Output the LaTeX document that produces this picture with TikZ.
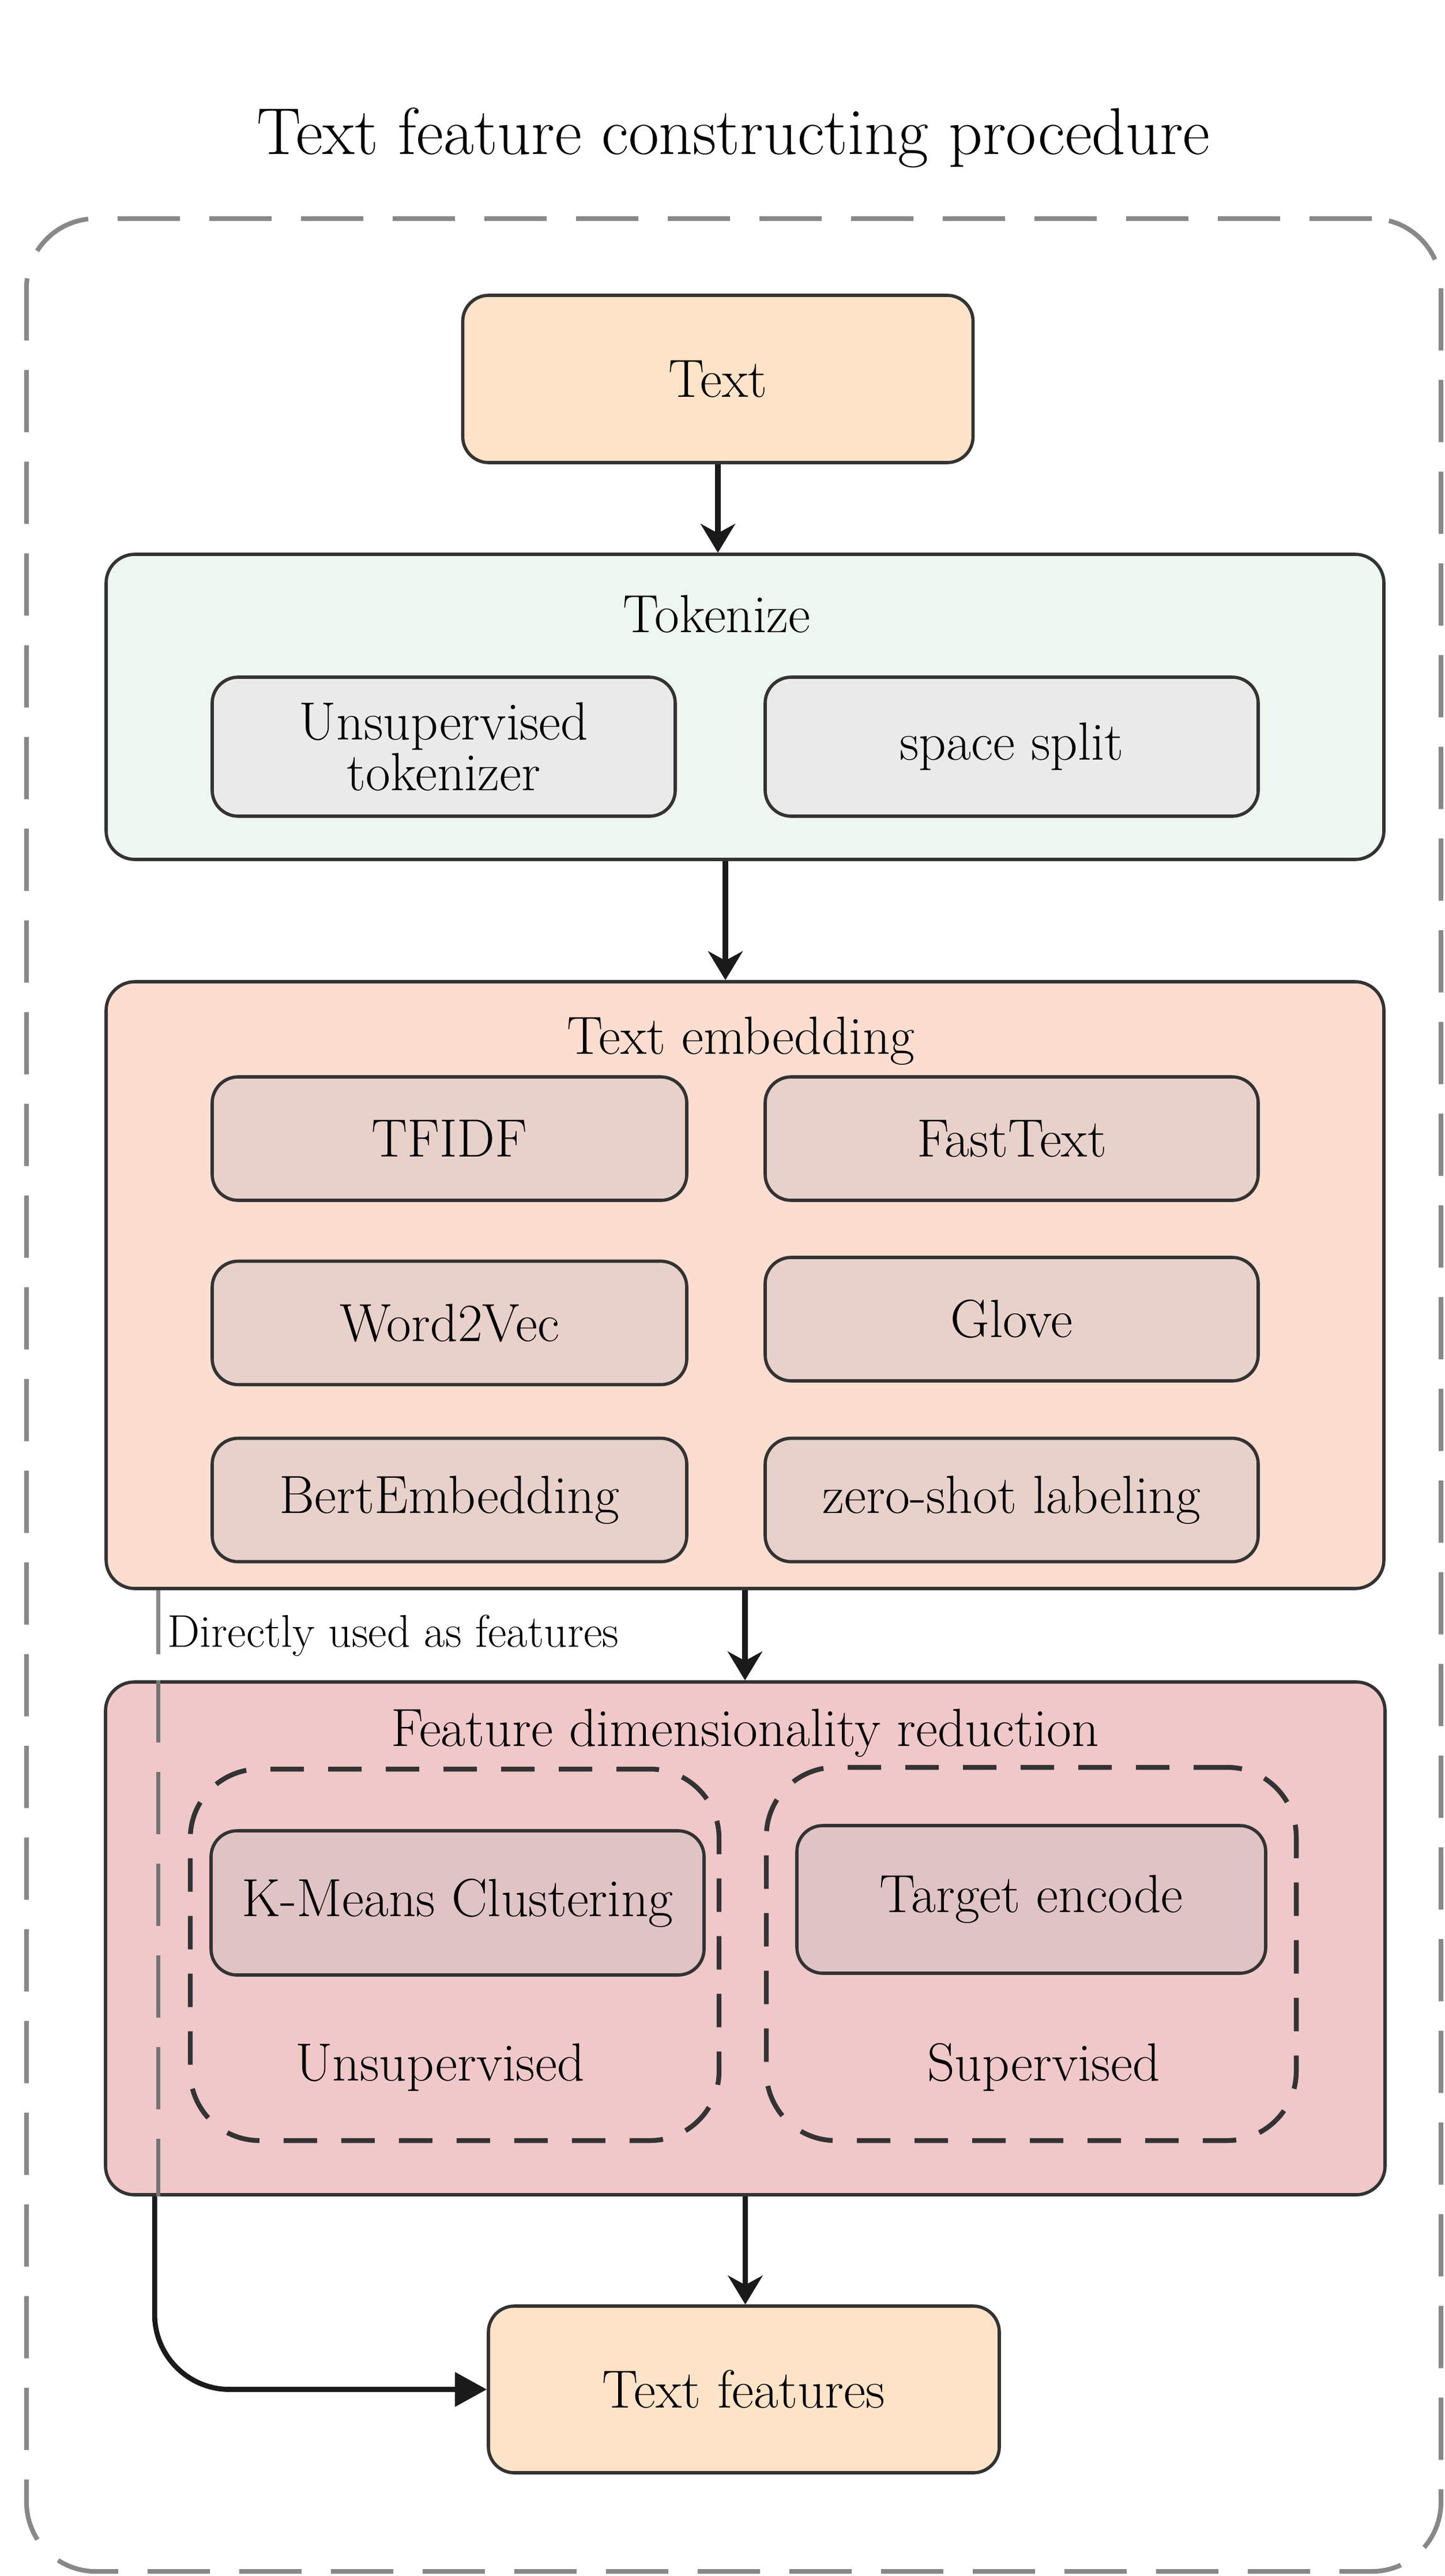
\documentclass[tikz,border=0pt]{standalone}
\usetikzlibrary{arrows.meta}
\definecolor{peach}{HTML}{FEE3C8}
\definecolor{mint}{HTML}{EEF6F0}
\definecolor{lightgray}{HTML}{EAEAEA}
\definecolor{salmon}{HTML}{FCDDCF}
\definecolor{salmonin}{HTML}{E8D1CA}
\definecolor{rose}{HTML}{F0C8CA}
\definecolor{rosein}{HTML}{E0C3C5}
\definecolor{edge}{HTML}{333333}
\definecolor{arrowc}{HTML}{1A1A1A}
\definecolor{framec}{HTML}{888888}

\begin{document}
\begin{tikzpicture}[
    box/.style={draw=edge, line width=1.6pt, rounded corners=4.5mm, align=center, inner sep=0pt, font=\fontsize{26.5}{25}\selectfont},
    group/.style={draw=edge, line width=1.6pt, rounded corners=5mm, inner sep=0pt},
    subgroup/.style={draw=edge, line width=2.4pt, rounded corners=12mm, dash pattern=on 5.8mm off 4.2mm, inner sep=0pt},
    title/.style={anchor=base, inner sep=0pt, font=\fontsize{26.5}{25}\selectfont},
    flow/.style={draw=arrowc, line width=2.8pt, -{Stealth[length=5mm, width=6mm]}},
    direct/.style={draw=framec, line width=2pt}
  ]
  \useasboundingbox (0,0) rectangle (25.06,-44.66);

  \node[anchor=base, inner sep=0pt, font=\fontsize{32.7}{38}\selectfont] (head) at (12.72,-2.68) {Text feature constructing procedure};
  \node[draw=framec, line width=2.3pt, rounded corners=12mm, dash pattern=on 10.8mm off 5.1mm, minimum width=24.53cm, minimum height=40.79cm] (frame) at (12.725,-24.185) {};

  \node[box, fill=peach, minimum width=8.85cm, minimum height=2.9cm] (text) at (12.45,-6.57) {Text};

  % tokenize
  \node[group, fill=mint, minimum width=22.16cm, minimum height=5.29cm] (tok) at (12.92,-12.255) {};
  \node[title] (toktitle) at (12.43,-10.96) {Tokenize};
  \node[box, fill=lightgray, minimum width=8.03cm, minimum height=2.41cm] (utok) at (7.695,-12.945) {Unsupervised\\tokenizer};
  \node[box, fill=lightgray, minimum width=8.55cm, minimum height=2.41cm] (split) at (17.545,-12.945) {space split};

  % embedding
  \node[group, fill=salmon, minimum width=22.16cm, minimum height=10.52cm] (emb) at (12.92,-22.28) {};
  \node[title] (embtitle) at (12.85,-18.27) {Text embedding};
  \node[box, fill=salmonin, minimum width=8.23cm, minimum height=2.14cm] (tfidf) at (7.795,-19.74) {TFIDF};
  \node[box, fill=salmonin, minimum width=8.55cm, minimum height=2.14cm] (fasttext) at (17.545,-19.74) {FastText};
  \node[box, fill=salmonin, minimum width=8.23cm, minimum height=2.14cm] (wordvec) at (7.795,-22.935) {Word2Vec};
  \node[box, fill=salmonin, minimum width=8.55cm, minimum height=2.14cm] (glove) at (17.545,-22.87) {Glove};
  \node[box, fill=salmonin, minimum width=8.23cm, minimum height=2.14cm] (bert) at (7.795,-26.005) {BertEmbedding};
  \node[box, fill=salmonin, minimum width=8.55cm, minimum height=2.14cm] (zeroshot) at (17.545,-26.005) {zero-shot labeling};

  % reduction
  \node[group, fill=rose, minimum width=22.19cm, minimum height=8.89cm] (fdr) at (12.925,-33.605) {};
  \node[title] (fdrtitle) at (12.92,-30.27) {Feature dimensionality reduction};
  \node[subgroup, minimum width=9.17cm, minimum height=6.44cm] (unsup) at (7.885,-33.89) {};
  \node[subgroup, minimum width=9.19cm, minimum height=6.47cm] (sup) at (17.885,-33.875) {};
  \node[box, fill=rosein, minimum width=8.55cm, minimum height=2.5cm] (kmeans) at (7.935,-32.99) {K-Means Clustering};
  \node[box, fill=rosein, minimum width=8.13cm, minimum height=2.56cm] (target) at (17.885,-32.93) {Target encode};
  \node[title] (unsuplbl) at (7.63,-36.07) {Unsupervised};
  \node[title] (suplbl) at (18.10,-36.07) {Supervised};

  \node[box, fill=peach, minimum width=8.86cm, minimum height=2.89cm] (feats) at (12.90,-41.425) {Text features};

  % connectors
  \draw[flow] (text.south) -- (text.south |- tok.north);
  \draw[flow] ([xshift=-3.4mm]tok.south) -- ([xshift=-3.4mm]tok.south |- emb.north);
  \draw[flow] (emb.south) -- (emb.south |- fdr.north);
  \draw[flow] (fdr.south) -- (fdr.south |- feats.north);

  \draw[direct] ([xshift=9.3mm]emb.south west) -- ++(0,-1.11);
  \node[anchor=base west, inner sep=0pt, font=\fontsize{22.6}{26}\selectfont] (dlabel) at (2.90,-28.55) {Directly used as features};
  \draw[direct, draw=framec!85!black, dash pattern=on 10.8mm off 5.1mm] ([xshift=9.4mm]fdr.north west) -- ([xshift=9.4mm]fdr.south west);
  \draw[draw=arrowc, line width=2.5pt, rounded corners=13mm, -{Triangle[length=5.5mm, width=5.8mm]}] ([xshift=8.8mm]fdr.south west) |- (feats.west);
\end{tikzpicture}
\end{document}
